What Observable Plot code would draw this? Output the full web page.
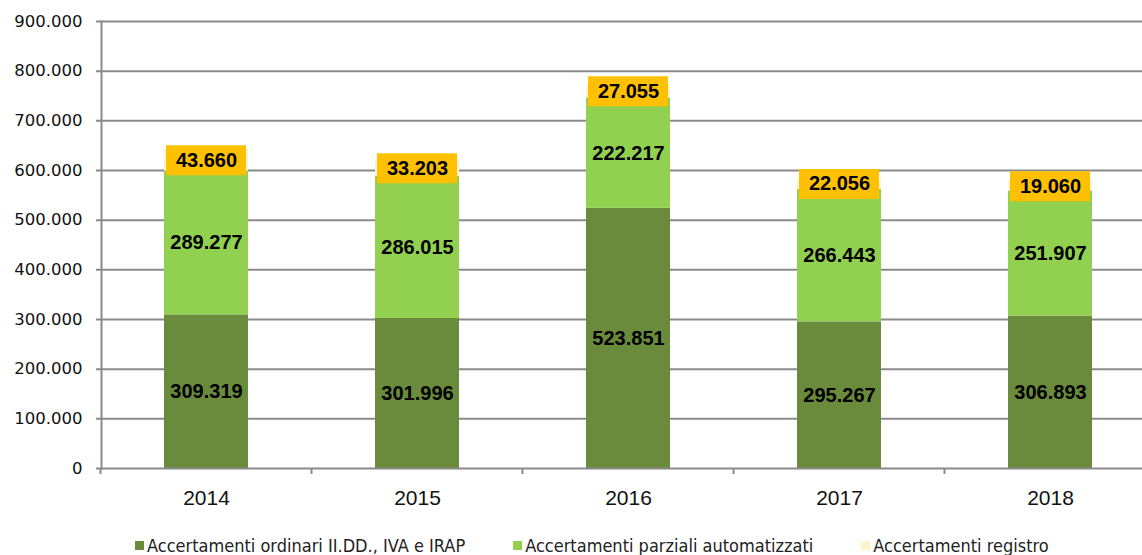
<!DOCTYPE html>
<html><head><meta charset="utf-8">
<script src="https://cdn.jsdelivr.net/npm/d3@7"></script>
<script src="https://cdn.jsdelivr.net/npm/@observablehq/plot@0.6"></script>
<style>
body{margin:0;background:#fff;overflow:hidden;}
#chart svg{display:block;}
#chart [aria-label^="x-axis"] text{font-family:"Liberation Sans",Arial,sans-serif;font-size:21px;fill:#111;}
#chart [aria-label^="y-axis"] text{font-family:"DejaVu Sans",sans-serif;font-size:16.5px;fill:#111;}
#legend{position:absolute;left:135px;top:535px;display:flex;align-items:center;
  font-family:"Liberation Sans Narrow","DejaVu Sans Condensed",sans-serif;font-stretch:condensed;font-size:18px;color:#222;white-space:nowrap;}
#legend .item{display:flex;align-items:center;margin-right:48px;}
#legend .sw{width:9px;height:9px;margin-right:3px;}
</style></head>
<body>
<div id="chart"></div>
<div id="legend"></div>
<script>
const years = ["2014", "2015", "2016", "2017", "2018"];
const seriesNames = ["Accertamenti ordinari II.DD., IVA e IRAP", "Accertamenti parziali automatizzati", "Accertamenti registro"];
const ordinari = [309319, 301996, 523851, 295267, 306893];
const parziali = [289277, 286015, 222217, 266443, 251907];
const registro = [43660, 33203, 27055, 22056, 19060];
const yTicks = [0, 100000, 200000, 300000, 400000, 500000, 600000, 700000, 800000, 900000];
const colors = ["#6a8b3b", "#92d050", "#fff4cc"];
const boxColor = "#ffc000";
const gridColor = "#8a8a8a";

const seriesValues = [ordinari, parziali, registro];
const data = years.flatMap((yr, i) => seriesNames.map((s, k) => ({year: yr, series: s, value: seriesValues[k][i]})));
const fmt = v => d3.format(",")(v).replace(/,/g, ".");

const boundaryTicks = (index, scales, values, dims) => {
  const x = scales.x;
  const bw = typeof x.bandwidth === "function" ? x.bandwidth() : (x.bandwidth || 0);
  const step = x(years[1]) - x(years[0]);
  const y0 = scales.y(0);
  const g = d3.create("svg:g");
  const xs = [x(years[0]) - (step - bw) / 2, ...years.map(yr => x(yr) + (bw + step) / 2)];
  xs.filter(v => v <= dims.width).forEach(xb => {
    g.append("line").attr("x1", xb).attr("x2", xb).attr("y1", y0).attr("y2", y0 + 6)
      .attr("stroke", gridColor).attr("stroke-width", 2);
  });
  return g.node();
};

const chart = Plot.plot({
  width: 1142,
  height: 520,
  marginLeft: 101,
  marginRight: 0,
  marginTop: 21,
  marginBottom: 52,
  x: {domain: years, range: [101, 1156], paddingInner: 0.6, paddingOuter: 0.3, tickSize: 0, tickPadding: 22, label: null},
  y: {domain: [0, 900000], ticks: yTicks, tickFormat: fmt, tickSize: 0, tickPadding: 19, label: null},
  color: {domain: seriesNames, range: colors},
  marks: [
    Plot.ruleY(yTicks.slice(1), {stroke: gridColor, strokeWidth: 2, insetLeft: -5}),
    Plot.barY(data, Plot.stackY({order: seriesNames}, {x: "year", y: "value", fill: "series"})),
    Plot.ruleY([0], {stroke: gridColor, strokeWidth: 2, insetLeft: -5}),
    Plot.frame({anchor: "left", stroke: gridColor, strokeWidth: 2}),
    boundaryTicks,
    Plot.tickY(data, Plot.stackY({order: seriesNames}, {
      x: "year", y: "value", z: "series", stroke: boxColor, strokeWidth: 30,
      strokeOpacity: d => d.series === seriesNames[2] ? 1 : 0, insetLeft: 2, insetRight: 2
    })),
    Plot.text(data, Plot.stackY({order: seriesNames}, {
      x: "year", y: "value", z: "series", text: d => fmt(d.value),
      fill: "#000", fontSize: 20, fontWeight: "bold", fontFamily: "Liberation Sans, Arial, sans-serif"
    }))
  ]
});
document.getElementById("chart").appendChild(chart);

const legend = document.getElementById("legend");
seriesNames.forEach((s, k) => {
  const item = document.createElement("div");
  item.className = "item";
  const sw = document.createElement("span");
  sw.className = "sw";
  sw.style.background = colors[k];
  const t = document.createElement("span");
  t.textContent = s;
  item.appendChild(sw); item.appendChild(t);
  legend.appendChild(item);
});
</script>
</body></html>
